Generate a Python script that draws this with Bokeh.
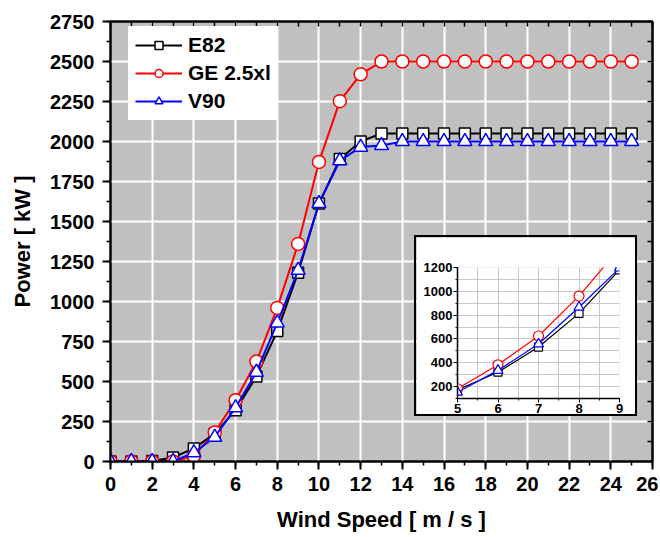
from bokeh.plotting import figure
from bokeh.models import (LinearAxis, SingleIntervalTicker, FixedTicker, Range1d, Legend, LegendItem)
from bokeh.embed import file_html
from bokeh.resources import INLINE

# ---- data ----
wind = list(range(0, 26))
e82 = [0, 0, 3, 25, 82, 174, 321, 532, 815, 1180, 1612, 1890, 2000, 2050,
       2050, 2050, 2050, 2050, 2050, 2050, 2050, 2050, 2050, 2050, 2050, 2050]
ge25xl = [0, 0, 0, 0, 35, 182, 383, 625, 960, 1360, 1872, 2252, 2420, 2500,
          2500, 2500, 2500, 2500, 2500, 2500, 2500, 2500, 2500, 2500, 2500, 2500]
v90 = [0, 0, 0, 0, 55, 152, 336, 558, 866, 1195, 1612, 1880, 1965, 1975,
       2000, 2000, 2000, 2000, 2000, 2000, 2000, 2000, 2000, 2000, 2000, 2000]

series_names = ["E82", "GE 2.5xl", "V90"]
x_minor_positions = list(range(0, 27))              # 1 m/s steps
y_minor_positions = [i * 125 for i in range(0, 23)]  # 125 kW steps

FONT = "Liberation Sans"

# ---- main figure ----
p = figure(width=658, height=537, x_range=Range1d(0, 26), y_range=Range1d(0, 2750),
           output_backend="svg", toolbar_location=None,
           min_border_left=110, min_border_top=21, min_border_right=6, min_border_bottom=76,
           background_fill_color="#C0C0C0", border_fill_color="white",
           outline_line_color="black", outline_line_width=2)

p.xaxis.ticker = SingleIntervalTicker(interval=2, num_minor_ticks=2)
p.yaxis.ticker = SingleIntervalTicker(interval=250, num_minor_ticks=2)
p.xgrid.grid_line_color = "white"
p.ygrid.grid_line_color = "white"
p.xgrid.grid_line_width = 2
p.ygrid.grid_line_width = 2

for ax in (p.xaxis[0], p.yaxis[0]):
    ax.axis_line_width = 2
    ax.major_tick_line_width = 2
    ax.minor_tick_line_width = 1.5
    ax.major_tick_out = 8
    ax.major_tick_in = 0
    ax.minor_tick_out = 4
    ax.minor_tick_in = 0
    ax.major_label_text_font = FONT
    ax.major_label_text_font_style = "bold"
    ax.major_label_text_font_size = "20px"
    ax.major_label_text_color = "black"
    ax.axis_label_text_font = FONT
    ax.axis_label_text_font_style = "bold"
    ax.axis_label_text_font_size = "22px"
    ax.axis_label_text_color = "black"

p.xaxis.axis_label = "Wind Speed [ m / s ]"
p.yaxis.axis_label = "Power [ kW ]"
p.xaxis.major_label_standoff = 7
p.xaxis.axis_label_standoff = 13
p.yaxis.major_label_standoff = 8
p.yaxis.axis_label_standoff = 12

# inward ticks on the right and top frame edges (no labels)
right_ax = LinearAxis(ticker=FixedTicker(ticks=[], minor_ticks=y_minor_positions),
                      minor_tick_in=5, minor_tick_out=0, minor_tick_line_width=1.5,
                      major_tick_in=0, major_tick_out=0, axis_line_width=2)
top_ax = LinearAxis(ticker=FixedTicker(ticks=[], minor_ticks=x_minor_positions),
                    minor_tick_in=5, minor_tick_out=0, minor_tick_line_width=1.5,
                    major_tick_in=0, major_tick_out=0, axis_line_width=2)
p.add_layout(right_ax, "right")
p.add_layout(top_ax, "above")

colors = ["black", "red", "blue"]
markers = ["square", "circle", "triangle"]
sizes = [11, 13, 14]
data = [e82, ge25xl, v90]

items = []
for name, ys, c, m, s in zip(series_names, data, colors, markers, sizes):
    lr = p.line(wind, ys, line_color=c, line_width=2)
    sr = p.scatter(wind, ys, marker=m, size=s, fill_color="white",
                   line_color=c, line_width=1.5)
    items.append(LegendItem(label=name, renderers=[lr, sr]))

legend = Legend(items=items, location=(18, 341),
                background_fill_color="white", background_fill_alpha=1.0,
                border_line_alpha=0, label_text_font=FONT, label_text_font_style="bold",
                label_text_font_size="21px", label_text_color="black",
                glyph_width=47, glyph_height=20, label_height=20,
                label_standoff=6, spacing=4, padding=7, margin=0)
p.add_layout(legend)

# ---- inset figure ----
q = figure(width=223, height=181, x_range=Range1d(5, 9), y_range=Range1d(100, 1200),
           output_backend="svg", toolbar_location=None,
           min_border_left=41, min_border_top=30, min_border_right=20, min_border_bottom=20,
           background_fill_color="white", border_fill_color="white",
           outline_line_color=None)
q.xaxis.ticker = SingleIntervalTicker(interval=1, num_minor_ticks=2)
q.yaxis.ticker = SingleIntervalTicker(interval=200, num_minor_ticks=2)
for g in (q.xgrid[0], q.ygrid[0]):
    g.grid_line_color = "#C8C8C8"
    g.grid_line_width = 1
    g.minor_grid_line_color = "#C8C8C8"
    g.minor_grid_line_width = 1
for ax in (q.xaxis[0], q.yaxis[0]):
    ax.axis_line_width = 1.5
    ax.major_tick_out = 4
    ax.major_tick_in = 0
    ax.minor_tick_out = 2
    ax.minor_tick_in = 0
    ax.major_label_standoff = 1
    ax.major_label_text_font = FONT
    ax.major_label_text_font_style = "bold"
    ax.major_label_text_font_size = "13px"
    ax.major_label_text_color = "black"

in_sizes = [8, 10, 10]
for ys, c, m, s in zip(data, colors, markers, in_sizes):
    q.line(wind, ys, line_color=c, line_width=1.2)
    q.scatter(wind, ys, marker=m, size=s, fill_color="white", line_color=c, line_width=1.2)

q.styles = {"position": "absolute", "left": "414px", "top": "235px",
            "border": "2px solid black"}

open("out.html", "w").write(file_html([p, q], INLINE))
